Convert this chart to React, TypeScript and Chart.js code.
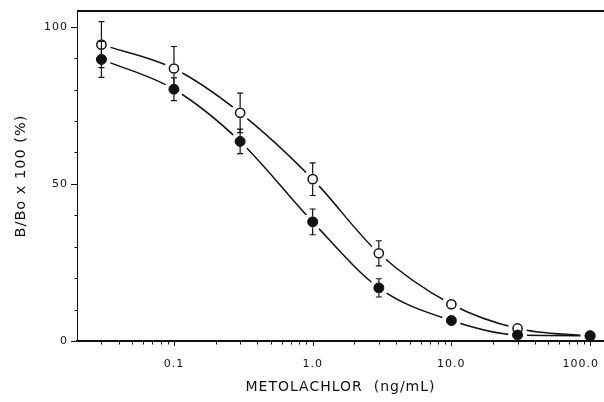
import { useEffect, useRef } from 'react';
import { Chart, registerables } from 'chart.js';

Chart.register(...registerables);

// Metolachlor concentrations (ng/mL)
const CONCENTRATIONS = [0.03, 0.1, 0.3, 1, 3, 10, 30, 100];
// Open circles: B/Bo x 100 (%) and error (±)
const OPEN_VALUES = [94.3, 86.7, 72.6, 51.5, 27.9, 11.7, 4.0, 1.5];
const OPEN_ERRORS = [7.3, 7.0, 6.3, 5.2, 4.0, 0, 0, 0];
// Filled circles: B/Bo x 100 (%) and error (±)
const FILLED_VALUES = [89.6, 80.1, 63.5, 37.9, 16.9, 6.5, 1.9, 1.7];
const FILLED_ERRORS = [5.7, 3.6, 3.9, 4.1, 2.9, 0, 0, 0];

// Axis ticks
const X_TICK_VALUES = [0.1, 1, 10, 100];
const X_TICK_LABELS = ['0.1', '1.0', '10.0', '100.0'];
const X_DECADES = [0.01, 0.1, 1, 10, 100];
const X_MULTIPLIERS = [1, 2, 3, 4, 5, 6, 7, 8, 9];
const Y_TICK_VALUES = [0, 50, 100];
const Y_TICK_LABELS = ['0', '50', '100'];
const Y_MINOR_TICKS = [10, 20, 30, 40, 60, 70, 80, 90];

const X_MIN = 0.02;
const X_MAX = 126;
const Y_MIN = 0;
const Y_MAX = 105;

const X_TITLE = 'METOLACHLOR  (ng/mL)';
const Y_TITLE = 'B/Bo x 100 (%)';

const INK = '#111';
const FONT = "'DejaVu Sans', sans-serif";
const HALO_R = 9.5;
const OPEN_R = 4.6;
const FILLED_R = 5;

const toPoints = (vals: number[]) => CONCENTRATIONS.map((c, i) => ({ x: c, y: vals[i] }));

const OPEN_MARKERS = 2;
const FILLED_MARKERS = 3;

const decorPlugin = {
  id: 'decor',
  beforeUpdate(chart: any) {
    chart.ctx.letterSpacing = '1px';
  },
  beforeDraw(chart: any) {
    chart.ctx.letterSpacing = '1px';
  },
  afterDatasetsDraw(chart: any) {
    const xs = chart.scales.x;
    const ys = chart.scales.y;
    const ctx = chart.ctx as CanvasRenderingContext2D;
    // white halos that open gaps in the curves around each symbol
    ctx.save();
    ctx.fillStyle = '#fff';
    [OPEN_VALUES, FILLED_VALUES].forEach((vals) => {
      CONCENTRATIONS.forEach((c, i) => {
        ctx.beginPath();
        ctx.arc(xs.getPixelForValue(c), ys.getPixelForValue(vals[i]), HALO_R, 0, Math.PI * 2);
        ctx.fill();
      });
    });
    ctx.restore();
    // redraw the symbols (library point elements) above the halos
    [OPEN_MARKERS, FILLED_MARKERS].forEach((idx) => {
      chart.getDatasetMeta(idx).data.forEach((el: any) => el.draw(ctx, chart.chartArea));
    });
    // error bars
    const CAP = 3;
    ctx.save();
    ctx.strokeStyle = INK;
    ctx.lineWidth = 1.2;
    const drawBars = (vals: number[], errs: number[], r: number) => {
      CONCENTRATIONS.forEach((c, i) => {
        const e = errs[i];
        if (!e) return;
        const px = xs.getPixelForValue(c);
        const py = ys.getPixelForValue(vals[i]);
        const ends: Array<[number, number]> = [
          [ys.getPixelForValue(vals[i] + e), -1],
          [ys.getPixelForValue(vals[i] - e), 1],
        ];
        ends.forEach(([end, dir]) => {
          if (Math.abs(end - py) <= r) return;
          ctx.beginPath();
          ctx.moveTo(px, py + dir * r);
          ctx.lineTo(px, end);
          ctx.moveTo(px - CAP, end);
          ctx.lineTo(px + CAP, end);
          ctx.stroke();
        });
      });
    };
    drawBars(OPEN_VALUES, OPEN_ERRORS, OPEN_R + 0.75);
    drawBars(FILLED_VALUES, FILLED_ERRORS, FILLED_R + 0.5);
    ctx.restore();
  },
  afterDraw(chart: any) {
    const xs = chart.scales.x;
    const ys = chart.scales.y;
    const { left, right, top, bottom } = chart.chartArea;
    const ctx = chart.ctx as CanvasRenderingContext2D;
    ctx.save();
    ctx.strokeStyle = INK;
    // top frame line
    ctx.lineWidth = 2;
    ctx.beginPath();
    ctx.moveTo(left, top);
    ctx.lineTo(right, top);
    ctx.stroke();
    // x tick marks (log decades)
    ctx.lineWidth = 1;
    X_DECADES.forEach((d) => {
      X_MULTIPLIERS.forEach((m) => {
        const v = d * m;
        if (v <= xs.min * 1.001 || v > xs.max) return;
        const px = Math.round(xs.getPixelForValue(v)) + 0.5;
        const len = m === 1 ? 5 : 3.5;
        ctx.beginPath();
        ctx.moveTo(px, bottom);
        ctx.lineTo(px, bottom + len);
        ctx.stroke();
      });
    });
    // y tick marks
    Y_TICK_VALUES.forEach((v) => {
      const py = Math.round(ys.getPixelForValue(v)) + 0.5;
      ctx.beginPath();
      ctx.moveTo(left, py);
      ctx.lineTo(left - 6, py);
      ctx.stroke();
    });
    Y_MINOR_TICKS.forEach((v) => {
      const py = Math.round(ys.getPixelForValue(v)) + 0.5;
      ctx.beginPath();
      ctx.moveTo(left, py);
      ctx.lineTo(left - 2.5, py);
      ctx.stroke();
    });
    // x tick labels, kept inside the canvas
    ctx.fillStyle = INK;
    ctx.font = `11px ${FONT}`;
    ctx.textAlign = 'center';
    ctx.textBaseline = 'middle';
    X_TICK_VALUES.forEach((v, i) => {
      const label = X_TICK_LABELS[i];
      const w = ctx.measureText(label).width;
      const px = Math.min(xs.getPixelForValue(v), chart.width - 5 - w / 2);
      ctx.fillText(label, px, bottom + 23);
    });
    ctx.restore();
  },
};

export default function App() {
  const ref = useRef<HTMLCanvasElement>(null);
  useEffect(() => {
    if (!ref.current) return;
    const chart = new Chart(ref.current, {
      type: 'scatter',
      data: {
        datasets: [
          {
            label: 'open curve',
            data: toPoints(OPEN_VALUES),
            showLine: true,
            pointRadius: 0,
            borderColor: INK,
            borderWidth: 1.5,
            cubicInterpolationMode: 'monotone',
          },
          {
            label: 'filled curve',
            data: toPoints(FILLED_VALUES),
            showLine: true,
            pointRadius: 0,
            borderColor: INK,
            borderWidth: 1.5,
            cubicInterpolationMode: 'monotone',
          },
          {
            label: 'open',
            data: toPoints(OPEN_VALUES),
            showLine: false,
            pointRadius: OPEN_R,
            pointBackgroundColor: '#fff',
            pointBorderColor: INK,
            pointBorderWidth: 1.5,
          },
          {
            label: 'filled',
            data: toPoints(FILLED_VALUES),
            showLine: false,
            pointRadius: FILLED_R,
            pointBackgroundColor: INK,
            pointBorderColor: INK,
            pointBorderWidth: 1,
          },
        ],
      },
      options: {
        animation: false,
        responsive: true,
        maintainAspectRatio: false,
        layout: { autoPadding: false, padding: { top: 11, left: 0, right: 0, bottom: 0 } },
        plugins: { legend: { display: false }, tooltip: { enabled: false } },
        events: [],
        scales: {
          x: {
            type: 'logarithmic',
            min: X_MIN,
            max: X_MAX,
            grid: { display: false, drawTicks: false },
            border: { display: true, color: INK, width: 2, z: 1 },
            afterBuildTicks: (scale: any) => {
              scale.ticks = X_TICK_VALUES.map((v) => ({ value: v, major: true }));
            },
            afterFit: (scale: any) => {
              scale.height = 61;
              scale.paddingLeft = 0;
              scale.paddingRight = 0;
            },
            ticks: { display: false, autoSkip: false },
            title: {
              display: true,
              text: X_TITLE,
              color: INK,
              font: { family: FONT, size: 14 },
              padding: { top: 0, bottom: 6 },
            },
          },
          y: {
            type: 'linear',
            min: Y_MIN,
            max: Y_MAX,
            grid: { display: false, drawTicks: false },
            border: { display: true, color: INK, width: 1 },
            afterBuildTicks: (scale: any) => {
              scale.ticks = Y_TICK_VALUES.map((v) => ({ value: v }));
            },
            afterFit: (scale: any) => {
              scale.width = 77;
              scale.paddingTop = 0;
              scale.paddingBottom = 0;
            },
            ticks: {
              autoSkip: false,
              padding: 9,
              color: INK,
              font: { family: FONT, size: 11 },
              callback: (_v: any, i: number) => Y_TICK_LABELS[i],
            },
            title: {
              display: true,
              text: Y_TITLE,
              color: INK,
              font: { family: FONT, size: 14.5 },
              padding: { top: 12.5, bottom: 0 },
            },
          },
        },
      } as any,
      plugins: [decorPlugin],
    } as any);
    return () => chart.destroy();
  }, []);

  return (
    <div
      style={{
        position: 'absolute',
        left: 0,
        top: 0,
        width: 604,
        height: 402,
        overflow: 'hidden',
        background: '#fff',
      }}
    >
      <canvas ref={ref} />
    </div>
  );
}
